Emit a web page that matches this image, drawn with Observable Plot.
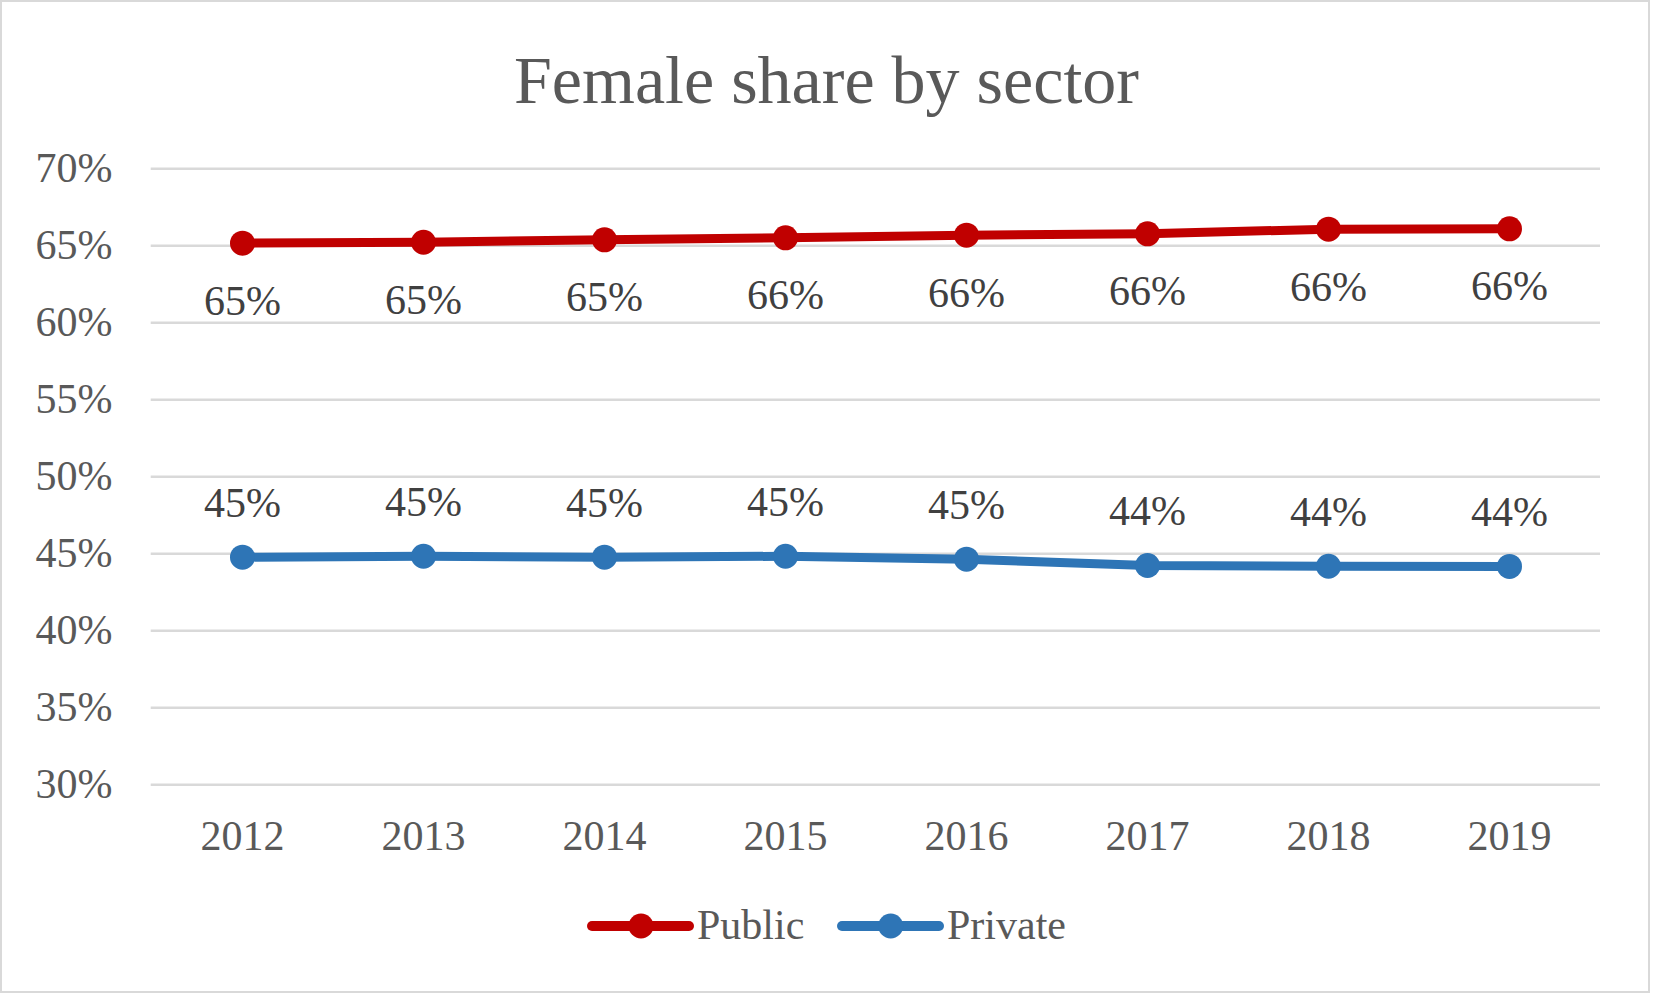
<!DOCTYPE html>
<html>
<head>
<meta charset="utf-8">
<script src="https://cdn.jsdelivr.net/npm/d3@7"></script>
<script src="https://cdn.jsdelivr.net/npm/@observablehq/plot@0.6"></script>
<style>
  html, body { margin: 0; padding: 0; background: #fff; }
  #wrap { position: relative; width: 1653px; height: 993px; overflow: hidden; font-family: "Liberation Serif", "DejaVu Serif", serif; }
  #border { position: absolute; left: 0; top: 0; width: 1650px; height: 993px; box-sizing: border-box; border: 2px solid #d9d9d9; }
  #title { position: absolute; left: 0; width: 1653px; top: 0; text-align: center; font-size: 68px; color: #595959; line-height: 1; }
  #chart { position: absolute; left: 0; top: 0; }
  #legend { position: absolute; left: 0; top: 0; }
</style>
</head>
<body>
<div id="wrap">
  <div id="border"></div>
  <div id="chart"></div>
  <div id="title">Female share by sector</div>
  <svg id="legend" width="1653" height="993"></svg>
</div>
<script>
const years = ["2012","2013","2014","2015","2016","2017","2018","2019"];
const publicShare = [65.17, 65.23, 65.39, 65.52, 65.69, 65.78, 66.08, 66.10];
const privateShare = [44.78, 44.84, 44.78, 44.84, 44.65, 44.24, 44.19, 44.18];
const seriesNames = ["Public", "Private"];
const seriesColors = ["#C00000", "#2E75B6"];
const yTicks = [30, 35, 40, 45, 50, 55, 60, 65, 70];

const data = [];
years.forEach((y, i) => {
  data.push({year: y, value: publicShare[i], series: "Public"});
  data.push({year: y, value: privateShare[i], series: "Private"});
});
const pub = data.filter(d => d.series === "Public");
const pri = data.filter(d => d.series === "Private");

const font = "Liberation Serif";
const plot = Plot.plot({
  width: 1653,
  height: 993,
  marginLeft: 150.7,
  marginRight: 53,
  marginTop: 168.3,
  marginBottom: 208.7,
  style: {fontFamily: font, background: "transparent", overflow: "visible"},
  x: {type: "point", domain: years, padding: 0.5},
  y: {domain: [30, 70]},
  color: {domain: seriesNames, range: seriesColors},
  marks: [
    Plot.gridY(yTicks, {stroke: "#d9d9d9", strokeOpacity: 1, strokeWidth: 2.6}),
    Plot.axisY(yTicks, {tickSize: 0, tickPadding: 38.7, tickFormat: d => d + "%", fontSize: 42, fill: "#595959", label: null}),
    Plot.axisX({tickSize: 0, tickPadding: 35, fontSize: 42, fill: "#595959", label: null}),
    Plot.line(data, {x: "year", y: "value", z: "series", stroke: "series", strokeWidth: 9, strokeLinejoin: "round", strokeLinecap: "round"}),
    Plot.dot(data, {x: "year", y: "value", fill: "series", r: 12.5, stroke: null}),
    Plot.text(pub, {x: "year", y: "value", text: d => Math.round(d.value) + "%", dy: 58, fontSize: 42, fill: "#404040"}),
    Plot.text(pri, {x: "year", y: "value", text: d => Math.round(d.value) + "%", dy: -54, fontSize: 42, fill: "#404040"})
  ]
});
document.getElementById("chart").appendChild(plot);

// Title: place baseline at ~107px
const title = document.getElementById("title");
title.style.top = (107 - 68 * 0.891) + "px";

// Legend
const lg = d3.select("#legend");
const legendItems = [
  {name: seriesNames[0], color: seriesColors[0], x0: 592, x1: 689, cx: 641, tx: 697},
  {name: seriesNames[1], color: seriesColors[1], x0: 842, x1: 939, cx: 890.7, tx: 947}
];
legendItems.forEach(it => {
  lg.append("line").attr("x1", it.x0).attr("x2", it.x1).attr("y1", 926).attr("y2", 926)
    .attr("stroke", it.color).attr("stroke-width", 10).attr("stroke-linecap", "round");
  lg.append("circle").attr("cx", it.cx).attr("cy", 926).attr("r", 12.5).attr("fill", it.color);
  lg.append("text").attr("x", it.tx).attr("y", 939).attr("font-family", font).attr("font-size", 42)
    .attr("fill", "#595959").text(it.name);
});
</script>
</body>
</html>
